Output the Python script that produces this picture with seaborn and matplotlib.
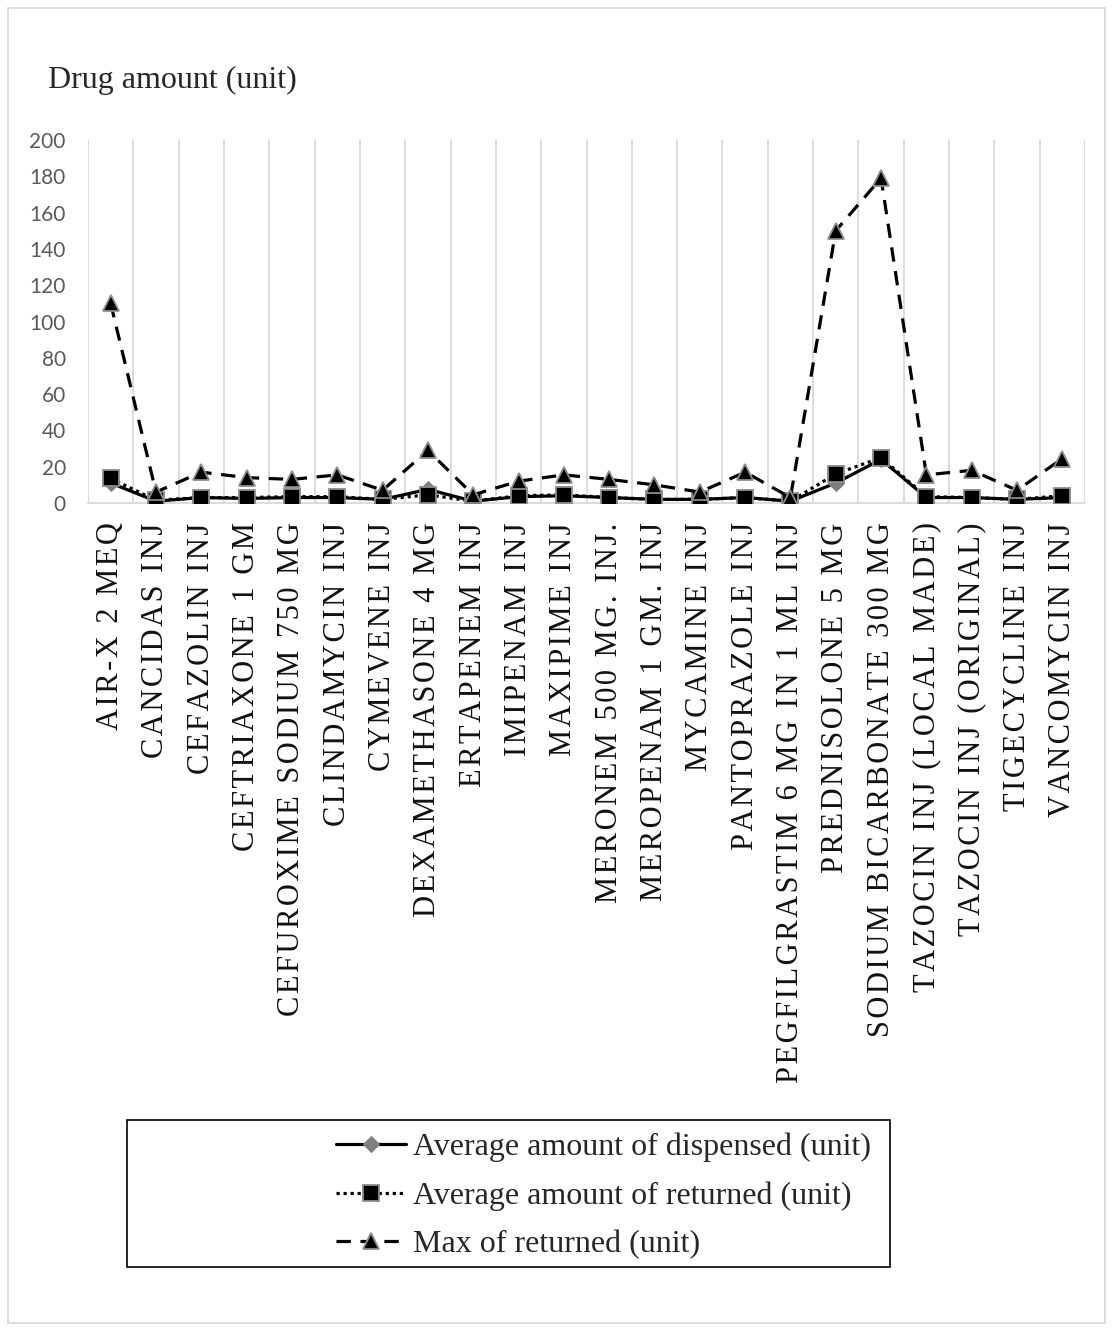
import matplotlib
matplotlib.use("Agg")
import matplotlib.pyplot as plt
import seaborn as sns
from matplotlib.patches import Rectangle
from matplotlib.ticker import FixedLocator

drugs = [
    "AIR-X 2 MEQ", "CANCIDAS INJ", "CEFAZOLIN INJ", "CEFTRIAXONE 1 GM",
    "CEFUROXIME SODIUM 750 MG", "CLINDAMYCIN INJ", "CYMEVENE INJ",
    "DEXAMETHASONE 4 MG", "ERTAPENEM INJ", "IMIPENAM INJ", "MAXIPIME INJ",
    "MERONEM 500 MG. INJ.", "MEROPENAM 1 GM. INJ", "MYCAMINE INJ",
    "PANTOPRAZOLE INJ", "PEGFILGRASTIM 6 MG IN 1 ML INJ", "PREDNISOLONE 5 MG",
    "SODIUM BICARBONATE 300 MG", "TAZOCIN INJ (LOCAL MADE)",
    "TAZOCIN INJ (ORIGINAL)", "TIGECYCLINE INJ", "VANCOMYCIN INJ",
]
avg_dispensed = [11, 1, 3, 2.5, 3, 3, 2, 7.5, 1, 3.5, 4, 3, 2, 2, 3, 1, 11, 24, 3, 3, 2, 3]
avg_returned = [13.5, 1.5, 3, 3, 3.5, 3.5, 2, 4.5, 1, 4, 4.5, 3, 2, 2, 3, 1, 16, 25, 3.5, 3, 2, 4]
max_returned = [110, 6, 17, 14, 13, 15.5, 7, 29, 4.5, 12, 15.5, 13, 10, 6, 17, 3, 150, 179, 15.5, 18, 7, 24.5]
yticks = list(range(0, 201, 20))

sns.set_style("white")
serif = ["Liberation Serif", "DejaVu Serif"]


# Excel draws these labels with a little extra letter spacing
def spaced(s):
    return "\u200a".join(s)


fig = plt.figure(figsize=(11.13, 13.31), dpi=100)
ax = fig.add_axes([88 / 1113, 1 - 503 / 1331, 997 / 1113, 363 / 1331])

sns.lineplot(x=drugs, y=avg_dispensed, ax=ax, sort=False, errorbar=None,
             color="black", lw=2.3, marker="D", markersize=8,
             markerfacecolor="#7f7f7f", markeredgecolor="#7f7f7f",
             label="Average amount of dispensed (unit)", zorder=3)
sns.lineplot(x=drugs, y=avg_returned, ax=ax, sort=False, errorbar=None,
             color="black", lw=2.3, linestyle=(0, (1, 1.2)), marker="s",
             markersize=11.5, markerfacecolor="black", markeredgecolor="#8c8c8c",
             markeredgewidth=1.3, label="Average amount of returned (unit)", zorder=4)
sns.lineplot(x=drugs, y=max_returned, ax=ax, sort=False, errorbar=None,
             color="black", lw=2.3, linestyle=(0, (4.5, 3)), marker="^",
             markersize=12, markerfacecolor="black", markeredgecolor="#8c8c8c",
             markeredgewidth=1.3, label="Max of returned (unit)", zorder=5)

ax.set_xlim(-0.5, len(drugs) - 0.5)
ax.set_ylim(0, 200)
ax.set_yticks(yticks)
ax.set_yticklabels([str(v) for v in yticks], fontsize=15, color="#595959",
                   family=["Lato", "DejaVu Sans"])
ax.set_xticks(range(len(drugs)))
ax.set_xticklabels([spaced(d) for d in drugs], rotation=90, fontsize=22,
                   family=serif, color="#111111", va="top", ha="center")
ax.tick_params(axis="x", length=0, pad=14)
ax.tick_params(axis="y", length=0, pad=16)
ax.xaxis.set_minor_locator(FixedLocator([i - 0.5 for i in range(len(drugs) + 1)]))
ax.grid(False)
ax.grid(True, which="minor", axis="x", color="#d9d9d9", lw=1.3)
ax.tick_params(which="minor", length=0)
ax.set_xlabel("")
ax.set_ylabel("")
for side in ["top", "right", "left"]:
    ax.spines[side].set_visible(False)
ax.spines["bottom"].set_color("#d9d9d9")
ax.spines["bottom"].set_linewidth(1.3)
ax.set_facecolor("none")

fig.text(48 / 1113, 1 - 88 / 1331, "Drug amount (unit)", fontsize=23,
         family=serif, va="baseline", ha="left")

leg = ax.legend(loc="center left", bbox_to_anchor=(320 / 1113, 1 - 1196 / 1331),
                bbox_transform=fig.transFigure, frameon=False, borderpad=0,
                handlelength=2.2, handletextpad=0.2, labelspacing=0.6,
                prop={"family": serif, "size": 23})

fig.patches.append(Rectangle((127 / 1113, 1 - 1267 / 1331), 763 / 1113, 147 / 1331,
                             transform=fig.transFigure, fill=False,
                             edgecolor="black", lw=1.2))
fig.patches.append(Rectangle((8 / 1113, 1 - 1323 / 1331), 1097 / 1113, 1315 / 1331,
                             transform=fig.transFigure, fill=False,
                             edgecolor="#d9d9d9", lw=1.3))

fig.savefig("out.png", dpi=100, facecolor="white")
